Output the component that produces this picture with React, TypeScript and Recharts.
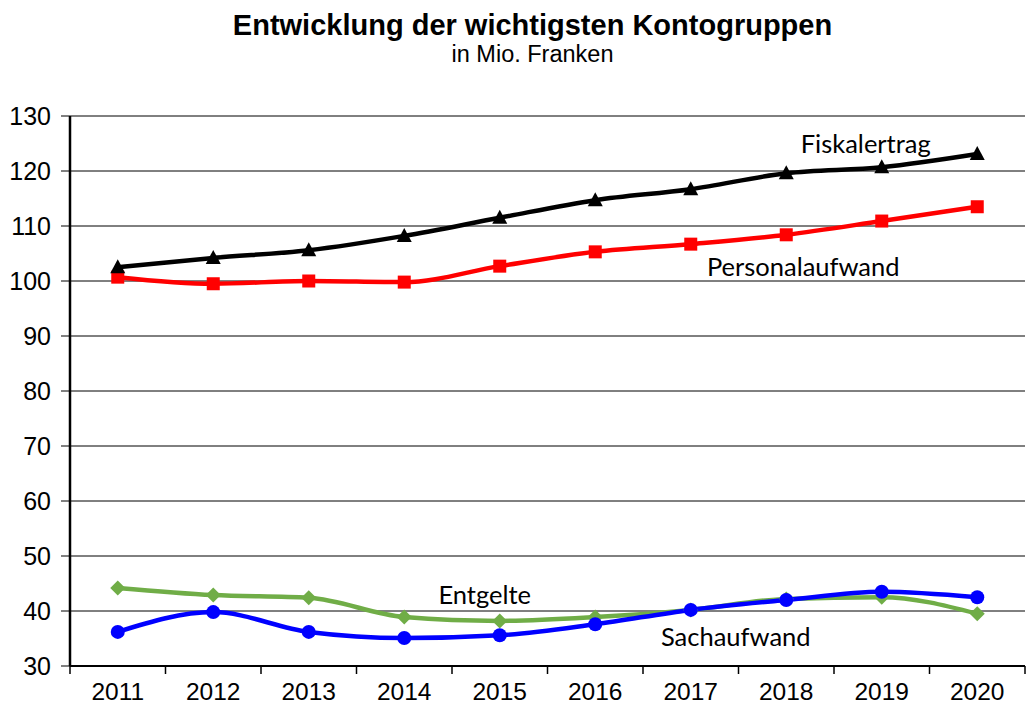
import React from 'react';
import { LineChart, Line, XAxis, YAxis, CartesianGrid, LabelList } from 'recharts';

// Values (Mio. Franken)
const years = ['2011', '2012', '2013', '2014', '2015', '2016', '2017', '2018', '2019', '2020'];
const fiskalertrag = [102.5, 104.2, 105.6, 108.2, 111.5, 114.7, 116.7, 119.6, 120.7, 123.1];
const personalaufwand = [100.7, 99.5, 100.0, 99.8, 102.7, 105.3, 106.7, 108.4, 110.9, 113.5];
const entgelte = [44.2, 42.9, 42.4, 38.9, 38.2, 38.9, 40.2, 42.2, 42.5, 39.5];
const sachaufwand = [36.2, 39.8, 36.2, 35.1, 35.6, 37.6, 40.2, 42.0, 43.5, 42.5];
const yTicks = [30, 40, 50, 60, 70, 80, 90, 100, 110, 120, 130];

const data = years.map((year, i) => ({
  year,
  fiskalertrag: fiskalertrag[i],
  personalaufwand: personalaufwand[i],
  entgelte: entgelte[i],
  sachaufwand: sachaufwand[i],
}));

const W = 1029;
const H = 704;
const margin = { top: 116, right: 4, left: 0, bottom: 0 };
const yAxisWidth = 70;
const plotWidth = W - margin.left - margin.right - yAxisWidth;
const halfStep = plotWidth / years.length / 2;

const AXIS_FONT = 'Liberation Sans, Arial, sans-serif';
const LABEL_FONT = 'Lato, "Open Sans", sans-serif';

const Triangle = (props: any) => {
  const { cx, cy } = props;
  if (cx == null || cy == null) return null;
  return <path d={`M${cx},${cy - 8} L${cx + 7.5},${cy + 6} L${cx - 7.5},${cy + 6} Z`} fill="#000" />;
};
const Square = (props: any) => {
  const { cx, cy } = props;
  if (cx == null || cy == null) return null;
  return <rect x={cx - 6.5} y={cy - 6.5} width={13} height={13} fill="#ff0000" />;
};
const Diamond = (props: any) => {
  const { cx, cy } = props;
  if (cx == null || cy == null) return null;
  return <path d={`M${cx},${cy - 7.5} L${cx + 7.5},${cy} L${cx},${cy + 7.5} L${cx - 7.5},${cy} Z`} fill="#70ad47" />;
};
const Circle = (props: any) => {
  const { cx, cy } = props;
  if (cx == null || cy == null) return null;
  return <circle cx={cx} cy={cy} r={7} fill="#0000ff" />;
};

const XTick = (props: any) => {
  const { x, y, payload, index } = props;
  return (
    <g>
      <line x1={x - halfStep} x2={x - halfStep} y1={y - 8} y2={y} stroke="#000" strokeWidth={1.5} />
      {index === years.length - 1 && (
        <line x1={x + halfStep} x2={x + halfStep} y1={y - 8} y2={y} stroke="#000" strokeWidth={1.5} />
      )}
      <text x={x} y={y + 26} textAnchor="middle" fontSize={24.5} fontFamily={AXIS_FONT} fill="#000">
        {payload.value}
      </text>
    </g>
  );
};

// series name placed next to one chosen point
const seriesLabel = (text: string, at: number, dx: number, dy: number) => (props: any) => {
  const { x, y, index } = props;
  if (index !== at) return null;
  return (
    <text x={x + dx} y={y + dy} textAnchor="middle" dominantBaseline="central" fontSize={25.5} fontFamily={LABEL_FONT} fill="#000">
      {text}
    </text>
  );
};

export default function App() {
  return (
    <div style={{ position: 'absolute', left: 0, top: 0, width: W, height: H, background: '#fff' }}>
      <div style={{ position: 'absolute', left: 0, width: W, top: 9, textAlign: 'center', fontFamily: AXIS_FONT, color: '#000' }}>
        <div style={{ fontSize: 29, fontWeight: 'bold', lineHeight: '32px', paddingLeft: 36 }}>Entwicklung der wichtigsten Kontogruppen</div>
        <div style={{ fontSize: 23.5, lineHeight: '27px', paddingLeft: 36 }}>in Mio. Franken</div>
      </div>
      <LineChart width={W} height={H} data={data} margin={margin}>
        <CartesianGrid vertical={false} stroke="#000" strokeWidth={1} />
        <XAxis
          dataKey="year"
          height={38}
          padding={{ left: halfStep, right: halfStep }}
          axisLine={{ stroke: '#000', strokeWidth: 2 }}
          tickLine={false}
          tick={<XTick />}
          interval={0}
        />
        <YAxis
          width={yAxisWidth}
          domain={[30, 130]}
          ticks={yTicks}
          interval={0}
          axisLine={{ stroke: '#000', strokeWidth: 2.5 }}
          tickLine={{ stroke: '#000', strokeWidth: 1 }}
          tickSize={9}
          tickMargin={10}
          tick={{ fontSize: 25, fontFamily: AXIS_FONT, fill: '#000' }}
        />
        <Line type="monotone" dataKey="entgelte" stroke="#70ad47" strokeWidth={4.5} dot={<Diamond />} isAnimationActive={false}>
          <LabelList dataKey="entgelte" content={seriesLabel('Entgelte', 4, -15, -27)} />
        </Line>
        <Line type="monotone" dataKey="sachaufwand" stroke="#0000ff" strokeWidth={4.5} dot={<Circle />} isAnimationActive={false}>
          <LabelList dataKey="sachaufwand" content={seriesLabel('Sachaufwand', 6, 45, 26)} />
        </Line>
        <Line type="monotone" dataKey="personalaufwand" stroke="#ff0000" strokeWidth={4.5} dot={<Square />} isAnimationActive={false}>
          <LabelList dataKey="personalaufwand" content={seriesLabel('Personalaufwand', 7, 17, 31)} />
        </Line>
        <Line type="monotone" dataKey="fiskalertrag" stroke="#000" strokeWidth={4.5} dot={<Triangle />} isAnimationActive={false}>
          <LabelList dataKey="fiskalertrag" content={seriesLabel('Fiskalertrag', 8, -16, -24)} />
        </Line>
      </LineChart>
    </div>
  );
}
